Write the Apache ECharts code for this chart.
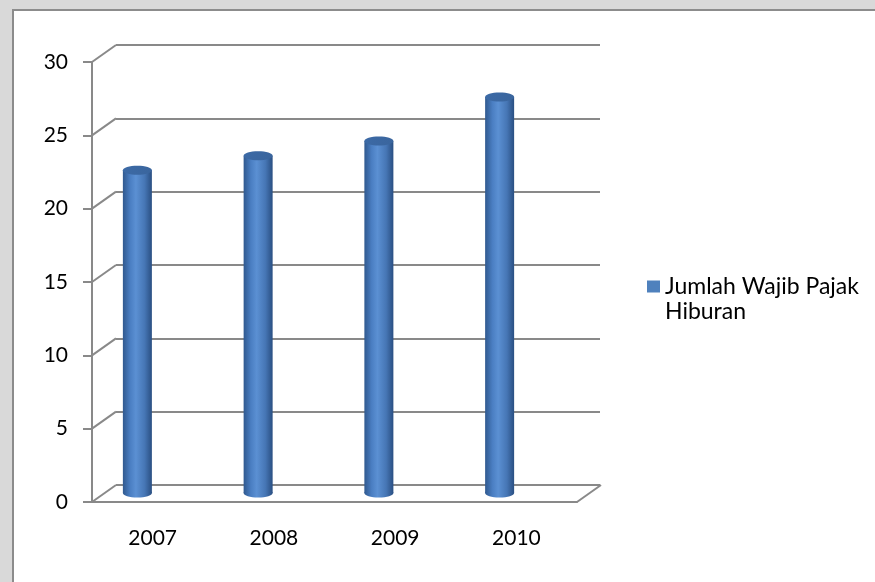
<!DOCTYPE html>
<html>
<head>
<meta charset="utf-8">
<script src="https://cdn.jsdelivr.net/npm/echarts@6/dist/echarts.min.js"></script>
<style>
    html, body { margin: 0; padding: 0; background: #fff; }
    #chart { width: 875px; height: 582px; }
</style>
</head>
<body>
<div id="chart"></div>
<script>
    // data
    var categories = ['2007', '2008', '2009', '2010'];
    var values = [22, 23, 24, 27];
    var yTicks = [0, 5, 10, 15, 20, 25, 30];
    var seriesName = 'Jumlah Wajib Pajak Hiburan';

    // depth of the fake 3d box (front -> back wall)
    var depthX = 24, depthY = -17;
    var lineColor = '#898989';
    var font = 'Lato';

    var myChart = echarts.init(document.getElementById('chart'));

    // cylinder shading
    function bodyFill() {
        return new echarts.graphic.LinearGradient(0, 0, 1, 0, [
            {offset: 0, color: '#30598f'},
            {offset: 0.25, color: '#4a7ec2'},
            {offset: 0.45, color: '#5b90d3'},
            {offset: 0.75, color: '#4676b5'},
            {offset: 1, color: '#2a4f82'}
        ]);
    }

    var option = {
        backgroundColor: '#ffffff',
        animation: false,
        graphic: [
            // grey page strip + frame of the chart area
            {type: 'rect', shape: {x: 0, y: 0, width: 875, height: 9}, style: {fill: '#d9d9d9'}, silent: true},
            {type: 'rect', shape: {x: 0, y: 0, width: 12, height: 582}, style: {fill: '#d9d9d9'}, silent: true},
            {type: 'line', shape: {x1: 12, y1: 10, x2: 875, y2: 10}, style: {stroke: '#8c8c8c', lineWidth: 2}, silent: true},
            {type: 'line', shape: {x1: 13, y1: 9, x2: 13, y2: 582}, style: {stroke: '#8c8c8c', lineWidth: 2}, silent: true}
        ],
        legend: {
            data: [{name: seriesName, icon: 'rect'}],
            left: 647,
            top: 249,
            padding: 0,
            itemWidth: 13,
            itemHeight: 12,
            // blank first line so the marker sits next to the first text line
            formatter: function () { return ' \nJumlah Wajib Pajak\nHiburan'; },
            textStyle: {
                fontFamily: font,
                fontSize: 23,
                color: '#000',
                lineHeight: 25
            }
        },
        grid: [
            // back wall
            {left: 116, top: 45, width: 484, height: 440},
            // front plane with the axes
            {left: 92, top: 62, width: 485, height: 440},
            // plane the cylinders stand on
            {left: 77, top: 53, width: 483, height: 440}
        ],
        xAxis: [
            {gridIndex: 0, type: 'category', data: categories, show: false},
            {
                gridIndex: 1, type: 'category', data: categories,
                axisLine: {lineStyle: {color: lineColor, width: 2}},
                axisTick: {length: 8, lineStyle: {color: lineColor, width: 2}},
                axisLabel: {fontFamily: font, fontSize: 21, color: '#000', margin: 26}
            },
            {gridIndex: 2, type: 'category', data: categories, show: false}
        ],
        yAxis: [
            {
                gridIndex: 0, type: 'value', min: 0, max: 30, interval: 5,
                axisLine: {show: false}, axisTick: {show: false}, axisLabel: {show: false},
                splitLine: {lineStyle: {color: lineColor, width: 2}}
            },
            {
                gridIndex: 1, type: 'value', min: 0, max: 30, interval: 5,
                axisLine: {show: true, lineStyle: {color: lineColor, width: 2}},
                axisTick: {show: true, length: 9, lineStyle: {color: lineColor, width: 2}},
                axisLabel: {fontFamily: font, fontSize: 21, color: '#000', margin: 24},
                splitLine: {show: false}
            },
            {gridIndex: 2, type: 'value', min: 0, max: 30, interval: 5, show: false, splitLine: {show: false}}
        ],
        series: [
            {
                // slanted lines joining the front axis to the back wall
                type: 'custom',
                name: 'depth',
                xAxisIndex: 1,
                yAxisIndex: 1,
                silent: true,
                data: yTicks.map(function (v) { return [0, v]; }),
                renderItem: function (params, api) {
                    var cs = params.coordSys;
                    var y = api.coord([0, api.value(1)])[1];
                    var children = [{
                        type: 'line',
                        shape: {x1: cs.x, y1: y, x2: cs.x + depthX, y2: y + depthY},
                        style: {stroke: lineColor, lineWidth: 2}
                    }];
                    if (api.value(1) === 0) {
                        children.push({
                            type: 'line',
                            shape: {x1: cs.x + cs.width, y1: y, x2: cs.x + cs.width + depthX, y2: y + depthY},
                            style: {stroke: lineColor, lineWidth: 2}
                        });
                    }
                    return {type: 'group', children: children};
                }
            },
            {
                type: 'custom',
                name: seriesName,
                xAxisIndex: 2,
                yAxisIndex: 2,
                itemStyle: {color: '#4f81bd'},
                data: values.map(function (v, i) { return [i, v]; }),
                renderItem: function (params, api) {
                    var top = api.coord([api.value(0), api.value(1)]);
                    var base = api.coord([api.value(0), 0]);
                    var rx = 14.5, ry = 4.5;
                    return {
                        type: 'group',
                        children: [
                            {
                                type: 'ellipse',
                                shape: {cx: base[0], cy: base[1], rx: rx, ry: ry},
                                style: {fill: bodyFill()}
                            },
                            {
                                type: 'rect',
                                shape: {x: top[0] - rx, y: top[1], width: rx * 2, height: base[1] - top[1]},
                                style: {fill: bodyFill()}
                            },
                            {
                                type: 'ellipse',
                                shape: {cx: top[0], cy: top[1], rx: rx, ry: ry},
                                style: {
                                    fill: new echarts.graphic.LinearGradient(0, 0, 1, 1, [
                                        {offset: 0, color: '#3c6aa6'},
                                        {offset: 1, color: '#3a659d'}
                                    ])
                                }
                            }
                        ]
                    };
                }
            }
        ]
    };

    myChart.setOption(option);
</script>
</body>
</html>
